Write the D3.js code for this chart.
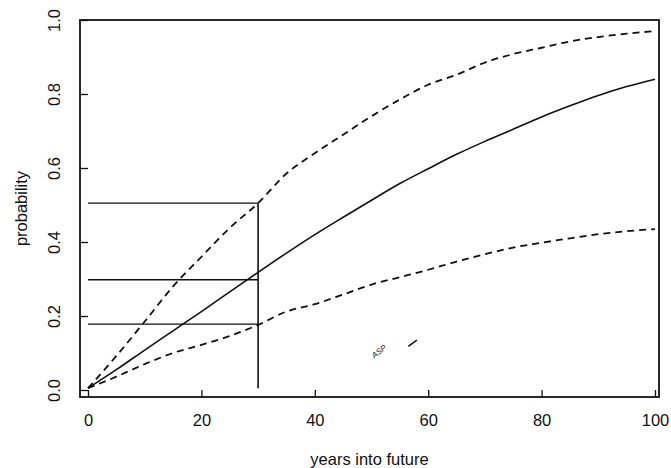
<!DOCTYPE html>
<html>
<head>
<meta charset="utf-8">
<script src="https://cdn.jsdelivr.net/npm/d3@7"></script>
<style>
  html, body { margin: 0; padding: 0; background: #fff; }
  svg { display: block; }
  text { font-family: "Liberation Sans", Arial, Helvetica, sans-serif; fill: #111; }
</style>
</head>
<body>
<svg id="chart" width="671" height="468"></svg>
<script>
// ---- data ----
const years = [0, 5, 10, 15, 20, 25, 30, 35, 40, 45, 50, 55, 60, 65, 70, 75, 80, 85, 90, 95, 100];
const median = [0.005, 0.055, 0.108, 0.160, 0.212, 0.265, 0.318, 0.370, 0.420, 0.467, 0.513, 0.558, 0.598, 0.637, 0.672, 0.705, 0.738, 0.768, 0.796, 0.820, 0.840];
const upper = [0.005, 0.092, 0.185, 0.280, 0.360, 0.438, 0.505, 0.585, 0.640, 0.690, 0.740, 0.785, 0.825, 0.852, 0.885, 0.908, 0.925, 0.942, 0.954, 0.963, 0.970];
const lower = [0.005, 0.036, 0.070, 0.100, 0.122, 0.146, 0.176, 0.212, 0.232, 0.258, 0.285, 0.305, 0.325, 0.347, 0.367, 0.385, 0.398, 0.410, 0.421, 0.429, 0.435];
const guideYear = 30;
const guideLevels = [0.505, 0.298, 0.178];
const xTicks = [0, 20, 40, 60, 80, 100];
const yTicks = [0.0, 0.2, 0.4, 0.6, 0.8, 1.0];
const xTitle = "years into future";
const yTitle = "probability";

// ---- layout ----
const svg = d3.select("#chart");
const box = { left: 80, right: 659, top: 20, bottom: 397 };
const x = d3.scaleLinear().domain([0, 100]).range([88, 655]);
const y = d3.scaleLinear().domain([0, 1]).range([390, 20]);
const ink = "#111";
const fontFam = '"Liberation Sans", Arial, sans-serif';
const fs = 16.5;

// frame
svg.append("rect")
  .attr("x", box.left).attr("y", box.top)
  .attr("width", box.right - box.left).attr("height", box.bottom - box.top)
  .attr("fill", "none").attr("stroke", ink).attr("stroke-width", 1.8);

// x axis (ticks inward from bottom edge)
const xAxis = d3.axisBottom(x).tickValues(xTicks).tickSizeInner(-7).tickSizeOuter(0).tickPadding(17)
  .tickFormat(d3.format("d"));
const gx = svg.append("g").attr("transform", `translate(0,${box.bottom})`).call(xAxis);
gx.select(".domain").remove();
gx.selectAll("line").attr("stroke", ink).attr("stroke-width", 1.3);
gx.selectAll("text").attr("font-size", fs).attr("fill", ink).attr("font-family", fontFam);

// y axis (ticks inward from left edge, rotated labels)
const yAxis = d3.axisLeft(y).tickValues(yTicks).tickSizeInner(-8).tickSizeOuter(0).tickPadding(0)
  .tickFormat(d3.format(".1f"));
const gy = svg.append("g").attr("transform", `translate(${box.left},0)`).call(yAxis);
gy.select(".domain").remove();
gy.selectAll("line").attr("stroke", ink).attr("stroke-width", 1.3);
gy.selectAll("text")
  .attr("font-size", fs).attr("fill", ink).attr("font-family", fontFam)
  .attr("x", null)
  .attr("text-anchor", "middle")
  .attr("transform", "translate(-26,0) rotate(-90)")
  .attr("dy", "0.35em");

// axis titles
svg.append("text").attr("x", (box.left + box.right) / 2).attr("y", 465)
  .attr("text-anchor", "middle").attr("font-size", fs).attr("fill", ink).text(xTitle);
svg.append("text").attr("transform", `translate(27,${(box.top + box.bottom) / 2}) rotate(-90)`)
  .attr("text-anchor", "middle").attr("font-size", fs).attr("fill", ink).text(yTitle);

// guide lines
const g = svg.append("g");
guideLevels.forEach(v => {
  g.append("line").attr("x1", x(0)).attr("x2", x(guideYear)).attr("y1", y(v)).attr("y2", y(v))
    .attr("stroke", ink).attr("stroke-width", 1.4);
});
g.append("line").attr("x1", x(guideYear)).attr("x2", x(guideYear))
  .attr("y1", y(d3.max(guideLevels))).attr("y2", y(0.005))
  .attr("stroke", ink).attr("stroke-width", 1.6);

// curves
const line = d3.line().x(d => x(d[0])).y(d => y(d[1])).curve(d3.curveMonotoneX);
const mk = arr => years.map((t, i) => [t, arr[i]]);
svg.append("path").attr("d", line(mk(median))).attr("fill", "none")
  .attr("stroke", ink).attr("stroke-width", 1.6);
[upper, lower].forEach(arr => {
  svg.append("path").attr("d", line(mk(arr))).attr("fill", "none")
    .attr("stroke", ink).attr("stroke-width", 1.8).attr("stroke-dasharray", "7,5");
});

// handwritten annotation in the scan
svg.append("text").attr("transform", `translate(${x(50.5)},${y(0.085)}) rotate(-38)`)
  .attr("font-size", 8).attr("font-style", "italic").attr("fill", ink).text("ASP");
svg.append("line").attr("x1", x(56.5)).attr("y1", y(0.118)).attr("x2", x(58)).attr("y2", y(0.135))
  .attr("stroke", ink).attr("stroke-width", 1.5);
</script>
</body>
</html>
